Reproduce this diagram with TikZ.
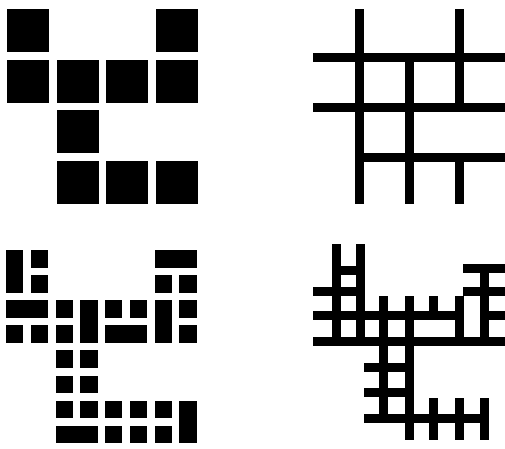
\documentclass[tikz,border=0pt]{standalone}
\usetikzlibrary{positioning}

\begin{document}
\begin{tikzpicture}[
    x=1pt, y=-1pt,
    blk/.style={fill=black},
    wall/.style={line width=9pt, draw=black},
]
\useasboundingbox[fill=white] (0,0) rectangle (505,448);
% coarse tiles (top left)
\foreach \c/\r in {0/0,3/0,0/1,1/1,2/1,3/1,1/2,1/3,2/3,3/3}
   \fill[blk] ({7+49.7*\c},{9+50.7*\r}) rectangle +(42,43);
% coarse walls (top right)
\draw[wall] (359,9) -- (359,204);
\draw[wall] (409,57) -- (409,204);
\draw[wall] (459,9) -- (459,107) (459,157) -- (459,204);
\draw[wall] (313,57) -- (505,57);
\draw[wall] (313,107) -- (505,107);
\draw[wall] (359,157) -- (505,157);
% fine tiles (bottom left): col/row from -- col/row to
\foreach \ca/\ra/\cb/\rb in {0/0/0/1, 1/0/1/0, 1/1/1/1,
      6/0/7/0, 6/1/6/1, 7/1/7/1,
      0/2/1/2, 0/3/0/3, 1/3/1/3,
      2/2/2/2, 2/3/2/3, 3/2/3/3,
      4/2/4/2, 5/2/5/2, 4/3/5/3,
      6/2/6/3, 7/2/7/2, 7/3/7/3,
      2/4/2/4, 3/4/3/4, 2/5/2/5, 3/5/3/5,
      2/6/2/6, 3/6/3/6, 2/7/3/7,
      4/6/4/6, 5/6/5/6, 4/7/4/7, 5/7/5/7,
      6/6/6/6, 6/7/6/7, 7/6/7/7}
   \fill[blk] ({6+24.76*\ca},{250+25.1*\ra})
      rectangle ({6+24.76*\cb+17.3},{250+25.1*\rb+17.5});
% fine walls (bottom right)
\draw[wall] (336,244) -- (336,341);
\draw[wall] (360,244) -- (360,341);
\draw[wall] (383,296) -- (383,418);
\draw[wall] (409,296) -- (409,440);
\draw[wall] (433,296) -- (433,315);
\draw[wall] (459,296) -- (459,341);
\draw[wall] (484,269) -- (484,341);
\foreach \x in {433,459,484}
   \draw[wall] (\x,398) -- (\x,440);
\draw[wall] (336,270) -- (360,270);
\draw[wall] (463,268) -- (505,268);
\draw[wall] (313,291) -- (360,291);
\draw[wall] (463,291) -- (505,291);
\draw[wall] (313,315) -- (459,315) (484,315) -- (505,315);
\draw[wall] (313,341) -- (505,341);
\foreach \y in {367,392}
   \draw[wall] (364,\y) -- (409,\y);
\draw[wall] (364,418) -- (484,418);
\end{tikzpicture}
\end{document}
